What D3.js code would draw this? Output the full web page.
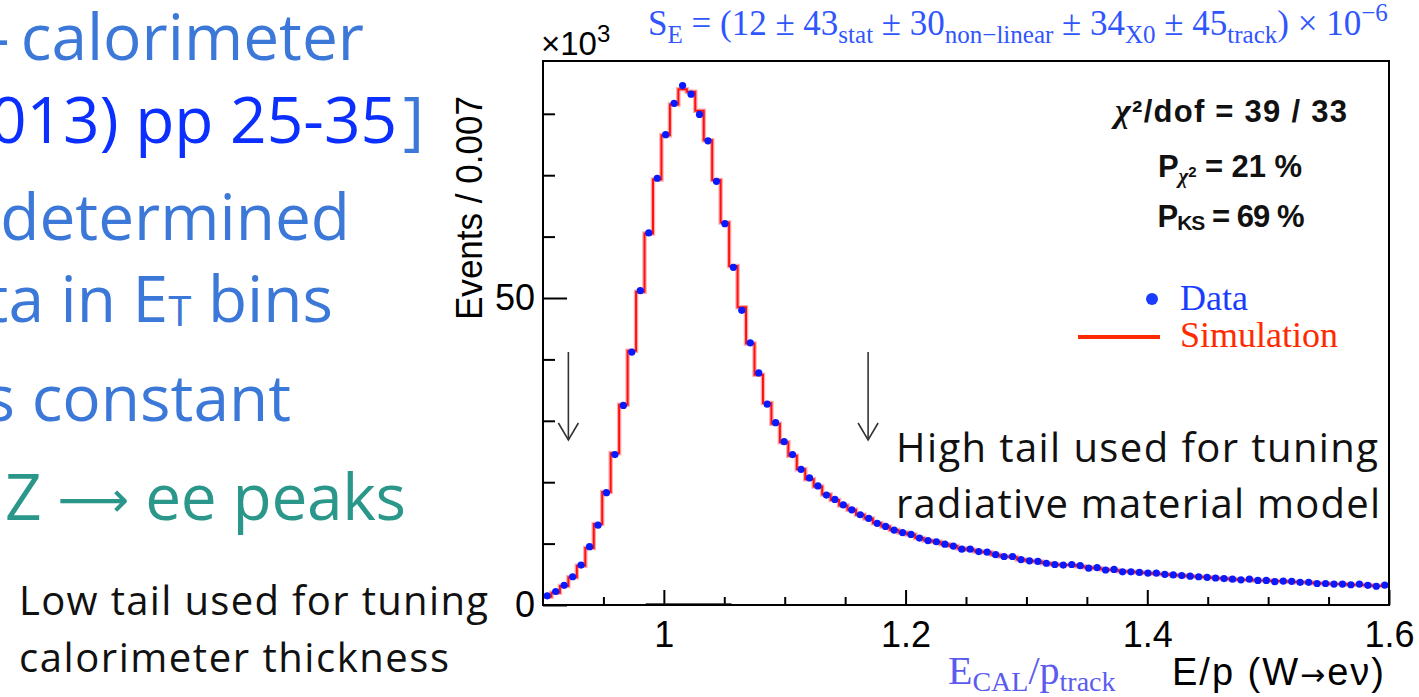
<!DOCTYPE html>
<html><head><meta charset="utf-8">
<script src="https://cdn.jsdelivr.net/npm/d3@7"></script>
<style>html,body{margin:0;padding:0;background:#fff;overflow:hidden}</style>
</head><body>
<svg id="c" width="1419" height="697"></svg>
<script>
// ---------------- data (units: 10^3 events per 0.007 bin) ----------------
const binLow = 0.9, binHigh = 1.6, binWidth = 0.007;
const mcValues = [
  1.35, 2.0, 3.1, 4.5, 6.4, 9.3, 13.2, 18.4, 24.7, 32.6,
  41.4, 51.0, 60.5, 69.3, 76.5, 81.5, 84.0, 83.6, 80.5, 75.7,
  69.2, 62.3, 55.2, 48.5, 42.6, 37.5, 32.9, 29.5, 26.5, 24.3,
  22.1, 20.5, 19.3, 18.0, 17.1, 16.2, 15.5, 14.7, 14.1, 13.3,
  12.8, 12.2, 11.8, 11.5, 10.9, 10.5, 10.3, 9.9, 9.6, 9.2,
  9.0, 8.7, 8.6, 8.2, 7.9, 7.8, 7.4, 7.2, 7.1, 6.8,
  6.6, 6.5, 6.5, 6.3, 6.1, 6.0, 5.8, 5.7, 5.5, 5.4,
  5.3, 5.2, 5.1, 5.0, 4.9, 4.8, 4.7, 4.6, 4.5, 4.4,
  4.3, 4.2, 4.1, 4.1, 4.0, 4.0, 3.9, 3.85, 3.8, 3.7,
  3.65, 3.55, 3.5, 3.4, 3.4, 3.3, 3.3, 3.2, 3.1, 3.15
];
const dataValues = [
  1.5, 2.2, 3.2, 4.6, 6.5, 9.5, 13.0, 18.3, 24.5, 32.5,
  41.2, 51.2, 60.6, 69.5, 76.6, 81.7, 84.6, 83.2, 79.9, 75.6,
  69.0, 62.1, 55.0, 48.0, 42.7, 37.8, 32.7, 29.7, 26.6, 24.5,
  22.1, 20.7, 19.4, 17.9, 17.2, 16.3, 15.5, 14.7, 14.1, 13.3,
  12.8, 12.2, 11.8, 11.5, 10.9, 10.5, 10.3, 9.9, 9.6, 9.1,
  9.1, 8.7, 8.6, 8.2, 7.9, 7.9, 7.4, 7.2, 7.1, 6.8,
  6.6, 6.5, 6.6, 6.4, 6.0, 6.1, 5.7, 5.8, 5.4, 5.4,
  5.3, 5.2, 5.2, 5.0, 4.9, 4.8, 4.7, 4.6, 4.5, 4.4,
  4.3, 4.2, 4.1, 4.2, 4.0, 4.0, 3.8, 3.9, 3.85, 3.7,
  3.7, 3.5, 3.5, 3.4, 3.4, 3.3, 3.4, 3.2, 3.05, 3.25
];
const xMajorTicks = [1, 1.2, 1.4, 1.6];
const xMinorTicks = [0.95, 1.05, 1.1, 1.15, 1.25, 1.3, 1.35, 1.45, 1.5, 1.55];
const yMajorTicks = [0, 50];
const yMinorTicks = [10, 20, 30, 40, 60, 70, 80];
const yTop = 88.6;
const arrowPositions = [0.921, 1.169];

// ---------------- layout ----------------
const L = 543, R = 1389, T = 61, B = 605;
const svg = d3.select("#c");
const x = d3.scaleLinear().domain([binLow, binHigh]).range([L, R]);
const y = d3.scaleLinear().domain([0, yTop]).range([B, T]);

const SANS = "'Liberation Sans', Arial, Helvetica, sans-serif";
const SERIF = "'Liberation Serif', 'Times New Roman', serif";
const SLIDE = "'Open Sans', 'Noto Sans', sans-serif";

// ---------------- slide text on the left ----------------
const slide = svg.append("g").attr("font-family", SLIDE);
function slideLine(t, xx, yy, size, color, anchor) {
  return slide.append("text").attr("x", xx).attr("y", yy).attr("font-size", size)
    .attr("fill", color).attr("text-anchor", anchor || "start").text(t);
}
slideLine("-", -11, 60, 64, "#3c78d8");
slideLine("calorimeter", 364, 60, 64, "#3c78d8", "end");
const l2 = slide.append("text").attr("x", 424).attr("y", 143).attr("font-size", 64)
  .attr("text-anchor", "end");
l2.append("tspan").attr("fill", "#0b2fff").text("013) pp 25-35");
l2.append("tspan").attr("fill", "#3c78d8").attr("dx", 6).text("]");
slideLine("determined", 350, 240, 64, "#3c78d8", "end");
const l4 = slide.append("text").attr("x", 333).attr("y", 322).attr("font-size", 64)
  .attr("fill", "#3c78d8").attr("text-anchor", "end");
l4.append("tspan").text("ta in E");
l4.append("tspan").attr("font-size", 42).attr("dy", 4).text("T");
l4.append("tspan").attr("dy", -4).text(" bins");
slideLine("s constant", 291, 421, 64, "#3c78d8", "end");
const l6 = slide.append("text").attr("x", 5).attr("y", 520).attr("font-size", 64)
  .attr("fill", "#2a978a").attr("textLength", 401).attr("lengthAdjust", "spacing");
l6.append("tspan").text("Z ");
l6.append("tspan").attr("font-family", "'DejaVu Sans', sans-serif").attr("font-size", 50)
  .attr("dy", -3).text("\u27f6");
l6.append("tspan").attr("dy", 3).text(" ee peaks");
slideLine("Low tail used for tuning", 19, 615, 40, "#111")
  .attr("textLength", 469).attr("lengthAdjust", "spacing");
slideLine("calorimeter thickness", 19, 672, 40, "#111")
  .attr("textLength", 430).attr("lengthAdjust", "spacing");

// ---------------- axes ----------------
const gx = svg.append("g").attr("transform", `translate(0,${B})`)
  .attr("font-family", SANS);
gx.call(d3.axisBottom(x).tickValues(xMajorTicks).tickSizeInner(-15).tickSizeOuter(0)
  .tickPadding(16).tickFormat(d => d === 1 ? "1" : d.toFixed(1)));
gx.append("g").call(d3.axisBottom(x).tickValues(xMinorTicks).tickSizeInner(-8)
  .tickSizeOuter(0).tickFormat(""));
gx.selectAll(".domain").remove();
gx.selectAll("line").attr("stroke", "#000").attr("stroke-width", 2);
gx.selectAll("text").attr("font-size", 36).attr("fill", "#000").attr("font-family", SANS);

const gy = svg.append("g").attr("transform", `translate(${L},0)`)
  .attr("font-family", SANS);
gy.call(d3.axisLeft(y).tickValues(yMajorTicks).tickSizeInner(-24).tickSizeOuter(0)
  .tickPadding(8).tickFormat(d3.format("d")));
gy.append("g").call(d3.axisLeft(y).tickValues(yMinorTicks).tickSizeInner(-12)
  .tickSizeOuter(0).tickFormat(""));
gy.selectAll(".domain").remove();
gy.selectAll("line").attr("stroke", "#000").attr("stroke-width", 2);
gy.selectAll("text").attr("font-size", 36).attr("fill", "#000").attr("font-family", SANS);

// short extra baseline segment under the peak
svg.append("line").attr("x1", x(0.985)).attr("x2", x(1.056)).attr("y1", B - 1).attr("y2", B - 1)
  .attr("stroke", "#222").attr("stroke-width", 1.5);

// axis titles
svg.append("text").attr("transform", `translate(482,96) rotate(-90)`)
  .attr("text-anchor", "end").attr("font-family", SANS).attr("font-size", 36)
  .attr("textLength", 224).attr("lengthAdjust", "spacingAndGlyphs")
  .text("Events / 0.007");

const x10 = svg.append("text").attr("x", 541).attr("y", 55).attr("font-family", SANS)
  .attr("font-size", 33).attr("fill", "#000");
x10.append("tspan").text("\u00d710");
x10.append("tspan").attr("font-size", 24).attr("dy", -13).text("3");

const xt = svg.append("text").attr("x", 948).attr("y", 684).attr("font-family", SERIF)
  .attr("font-size", 40).attr("fill", "#5b5bf0");
xt.append("tspan").text("E");
xt.append("tspan").attr("font-size", 28).attr("dy", 7).text("CAL");
xt.append("tspan").attr("dy", -7).text("/p");
xt.append("tspan").attr("font-size", 28).attr("dy", 7).text("track");

const xt2 = svg.append("text").attr("x", 1172).attr("y", 685)
  .attr("font-family", SANS).attr("font-size", 38).attr("fill", "#000")
  .attr("textLength", 212).attr("lengthAdjust", "spacing");
xt2.append("tspan").text("E/p (W");
xt2.append("tspan").attr("font-family", "'DejaVu Sans', sans-serif").attr("font-size", 30).text("\u2192");
xt2.append("tspan").text("e\u03bd)");

// title formula
const tf = svg.append("text").attr("x", 648).attr("y", 35).attr("font-family", SERIF)
  .attr("font-size", 35).attr("fill", "#2f55ff");
const tSub = (t) => { tf.append("tspan").attr("font-size", 25).attr("dy", 8).text(t); };
const tMain = (t) => { tf.append("tspan").attr("dy", -8).text(t); };
tf.append("tspan").text("S");
tSub("E");
tMain(" = (12 \u00b1 43");
tSub("stat");
tMain(" \u00b1 30");
tSub("non\u2212linear");
tMain(" \u00b1 34");
tSub("X0");
tMain(" \u00b1 45");
tSub("track");
tMain(") \u00d7 10");
tf.append("tspan").attr("font-size", 25).attr("dy", -14).text("\u22126");

// ---------------- histogram ----------------
const plot = svg.append("g");
const mcPts = mcValues.map((v, i) => [binLow + i * binWidth, v]);
mcPts.push([binHigh, mcValues[mcValues.length - 1]]);
const stepLine = d3.line().x(d => x(d[0])).y(d => y(d[1])).curve(d3.curveStepAfter);
plot.append("path").attr("d", stepLine(mcPts)).attr("fill", "none")
  .attr("stroke", "rgba(255,70,70,0.45)").attr("stroke-width", 4.5);
plot.append("path").attr("d", stepLine(mcPts)).attr("fill", "none")
  .attr("stroke", "#ff1010").attr("stroke-width", 2);

// data points
const pts = plot.append("g");
dataValues.forEach((v, i) => {
  const x0 = binLow + i * binWidth, xc = x0 + binWidth / 2;
  const err = Math.sqrt(v * 1000) / 1000;
  pts.append("line").attr("x1", x(x0) + 1).attr("x2", x(x0 + binWidth) - 1)
    .attr("y1", y(v)).attr("y2", y(v)).attr("stroke", "#1030ff").attr("stroke-width", 1.5);
  pts.append("line").attr("x1", x(xc)).attr("x2", x(xc))
    .attr("y1", y(v + err) - 1).attr("y2", y(v - err) + 1)
    .attr("stroke", "#1030ff").attr("stroke-width", 1.5);
  pts.append("circle").attr("cx", x(xc)).attr("cy", y(v)).attr("r", 3.6)
    .attr("fill", "#0a1aff");
});

// frame
svg.append("rect").attr("x", L).attr("y", T).attr("width", R - L).attr("height", B - T)
  .attr("fill", "none").attr("stroke", "#000").attr("stroke-width", 2);

// arrows
arrowPositions.forEach(a => {
  const ax = x(a);
  const g = svg.append("g").attr("stroke", "#333").attr("stroke-width", 1.6).attr("fill", "none");
  g.append("line").attr("x1", ax).attr("x2", ax).attr("y1", 352).attr("y2", 440);
  g.append("polyline").attr("points", `${ax - 10},423 ${ax},440 ${ax + 10},423`);
});

// stats block
const st = svg.append("g").attr("font-family", SANS).attr("font-weight", "bold")
  .attr("font-size", 31).attr("fill", "#111").attr("text-anchor", "middle");
const s1 = st.append("text").attr("x", 1231).attr("y", 122)
  .attr("textLength", 232).attr("lengthAdjust", "spacing");
s1.append("tspan").attr("font-family", SERIF).attr("font-style", "italic").attr("font-size", 34).text("\u03c7");
s1.append("tspan").text("\u00b2/dof = 39 / 33");
const s2 = st.append("text").attr("x", 1230).attr("y", 177)
  .attr("textLength", 144).attr("lengthAdjust", "spacing");
s2.append("tspan").text("P");
s2.append("tspan").attr("font-size", 21).attr("dy", 6).attr("font-family", SERIF)
  .attr("font-style", "italic").text("\u03c7");
s2.append("tspan").attr("font-size", 15).attr("dy", -6).text("2");
s2.append("tspan").attr("dy", 0).text(" = 21 %");
const s3 = st.append("text").attr("x", 1231).attr("y", 227)
  .attr("textLength", 147).attr("lengthAdjust", "spacing");
s3.append("tspan").text("P");
s3.append("tspan").attr("font-size", 21).attr("dy", 3).text("KS");
s3.append("tspan").attr("dy", -3).text(" = 69 %");

// legend
const lg = svg.append("g").attr("font-family", SERIF).attr("font-size", 36);
lg.append("circle").attr("cx", 1152).attr("cy", 299).attr("r", 6).attr("fill", "#1a3cff");
lg.append("text").attr("x", 1180).attr("y", 310).attr("fill", "#1a3cff").text("Data");
lg.append("line").attr("x1", 1078).attr("x2", 1160).attr("y1", 337).attr("y2", 337)
  .attr("stroke", "#ff2a00").attr("stroke-width", 4);
lg.append("text").attr("x", 1180).attr("y", 347).attr("fill", "#ff2a00").text("Simulation");

// high-tail annotation
const ht = svg.append("g").attr("font-family", SLIDE).attr("font-size", 40).attr("fill", "#111");
ht.append("text").attr("x", 896).attr("y", 462).attr("textLength", 482)
  .attr("lengthAdjust", "spacing").text("High tail used for tuning");
ht.append("text").attr("x", 896).attr("y", 518).attr("textLength", 484)
  .attr("lengthAdjust", "spacing").text("radiative material model");
</script>
</body></html>
